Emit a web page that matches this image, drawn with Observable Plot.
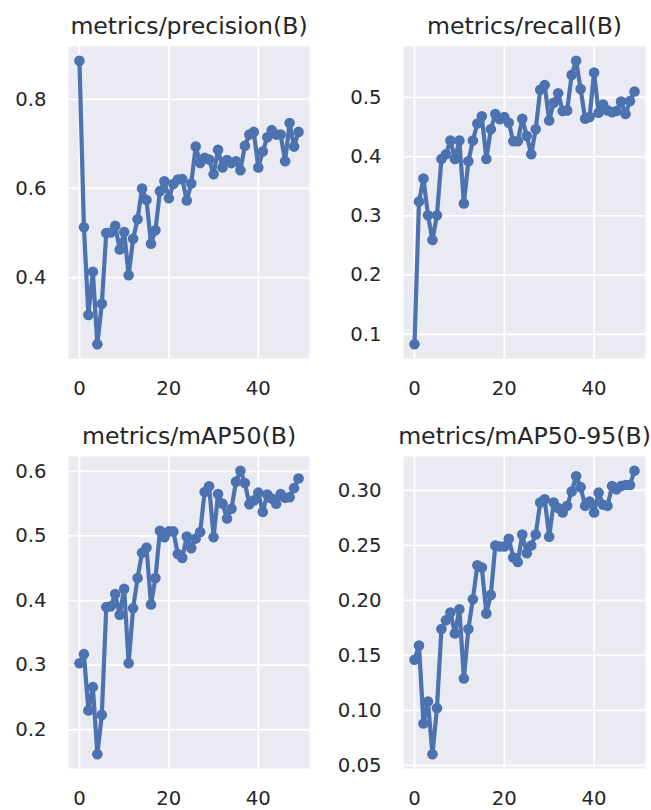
<!DOCTYPE html>
<html>
<head>
<meta charset="utf-8">
<script src="https://cdn.jsdelivr.net/npm/d3@7"></script>
<script src="https://cdn.jsdelivr.net/npm/@observablehq/plot@0.6"></script>
<style>
  html, body { margin: 0; padding: 0; background: white; }
  #chart { position: relative; width: 651px; height: 810px; overflow: hidden; }
  #chart svg { position: absolute; }
</style>
</head>
<body>
<div id="chart"></div>
<script>
const epochs = d3.range(0, 50);

const precision = [0.887,0.513,0.316,0.413,0.250,0.341,0.500,0.501,0.516,0.463,
  0.502,0.405,0.487,0.531,0.600,0.574,0.476,0.506,0.594,0.616,
  0.578,0.610,0.620,0.621,0.573,0.611,0.694,0.657,0.669,0.665,
  0.632,0.687,0.647,0.664,0.657,0.661,0.641,0.696,0.721,0.727,
  0.647,0.683,0.715,0.731,0.721,0.721,0.661,0.747,0.694,0.727];

const recall = [0.083,0.324,0.363,0.301,0.259,0.301,0.396,0.404,0.427,0.396,
  0.427,0.321,0.392,0.427,0.456,0.468,0.396,0.446,0.472,0.463,
  0.467,0.457,0.426,0.426,0.464,0.435,0.404,0.446,0.513,0.521,
  0.461,0.491,0.507,0.477,0.478,0.538,0.562,0.514,0.464,0.467,
  0.542,0.474,0.488,0.478,0.475,0.477,0.493,0.472,0.494,0.510];

const map50 = [0.303,0.317,0.230,0.266,0.162,0.223,0.390,0.391,0.410,0.378,
  0.418,0.303,0.388,0.435,0.474,0.482,0.394,0.435,0.508,0.498,
  0.507,0.507,0.472,0.466,0.499,0.481,0.496,0.506,0.568,0.577,
  0.498,0.565,0.550,0.527,0.542,0.584,0.601,0.582,0.549,0.555,
  0.567,0.537,0.564,0.558,0.550,0.565,0.559,0.560,0.574,0.589];

const map5095 = [0.146,0.159,0.088,0.108,0.060,0.102,0.174,0.182,0.189,0.170,
  0.192,0.129,0.174,0.201,0.232,0.230,0.188,0.205,0.250,0.249,
  0.249,0.256,0.239,0.235,0.260,0.243,0.250,0.260,0.289,0.292,
  0.258,0.289,0.284,0.280,0.286,0.299,0.313,0.303,0.286,0.290,
  0.280,0.298,0.287,0.286,0.304,0.301,0.304,0.305,0.305,0.318];

const titles = ["metrics/precision(B)", "metrics/recall(B)", "metrics/mAP50(B)", "metrics/mAP50-95(B)"];
const xTicks = [0, 20, 40];
const yTicks = [
  [0.4, 0.6, 0.8],
  [0.1, 0.2, 0.3, 0.4, 0.5],
  [0.2, 0.3, 0.4, 0.5, 0.6],
  [0.05, 0.10, 0.15, 0.20, 0.25, 0.30]
];
const yFormats = [d3.format(".1f"), d3.format(".1f"), d3.format(".1f"), d3.format(".2f")];
const series = [precision, recall, map50, map5095];

// panel placement (layout only)
const panels = [
  {left: 0,   top: 0,   width: 325, height: 405, ml: 68, mr: 16, mt: 46, mb: 47},
  {left: 325, top: 0,   width: 326, height: 405, ml: 78, mr: 6,  mt: 46, mb: 47},
  {left: 0,   top: 405, width: 325, height: 405, ml: 68, mr: 16, mt: 51, mb: 42},
  {left: 325, top: 405, width: 326, height: 405, ml: 78, mr: 6,  mt: 51, mb: 42}
];

const blue = "#4C72B0";
const ink = "#262626";
const chart = document.getElementById("chart");

series.forEach((vals, i) => {
  const p = panels[i];
  const data = epochs.map((e, k) => ({epoch: e, value: vals[k]}));
  const [lo, hi] = d3.extent(vals);
  const pad = (hi - lo) * 0.05;
  const xPad = (d3.max(epochs) - d3.min(epochs)) * 0.05;
  const svg = Plot.plot({
    width: p.width,
    height: p.height,
    marginLeft: p.ml,
    marginRight: p.mr,
    marginTop: p.mt,
    marginBottom: p.mb,
    style: {fontFamily: "DejaVu Sans", fontSize: "19.7px", color: ink, background: "white", overflow: "visible"},
    x: {domain: [d3.min(epochs) - xPad, d3.max(epochs) + xPad]},
    y: {domain: [lo - pad, hi + pad]},
    marks: [
      Plot.frame({fill: "#EAEAF2", stroke: null}),
      Plot.gridX(xTicks, {stroke: "white", strokeOpacity: 1, strokeWidth: 1.8}),
      Plot.gridY(yTicks[i], {stroke: "white", strokeOpacity: 1, strokeWidth: 1.8}),
      Plot.axisX(xTicks, {tickSize: 0, tickPadding: 22, label: null, fontSize: 19.7, fill: ink}),
      Plot.axisY(yTicks[i], {tickSize: 0, tickPadding: 22, label: null, tickFormat: yFormats[i], fontSize: 19.7, fill: ink}),
      Plot.line(data, {x: "epoch", y: "value", stroke: blue, strokeWidth: 4.2}),
      Plot.dot(data, {x: "epoch", y: "value", fill: blue, r: 5.3}),
      Plot.text([titles[i]], {text: d => d, frameAnchor: "top", lineAnchor: "bottom", dy: -13, fontSize: 23.6, fill: ink})
    ]
  });
  svg.style.left = p.left + "px";
  svg.style.top = p.top + "px";
  chart.appendChild(svg);
});
</script>
</body>
</html>
